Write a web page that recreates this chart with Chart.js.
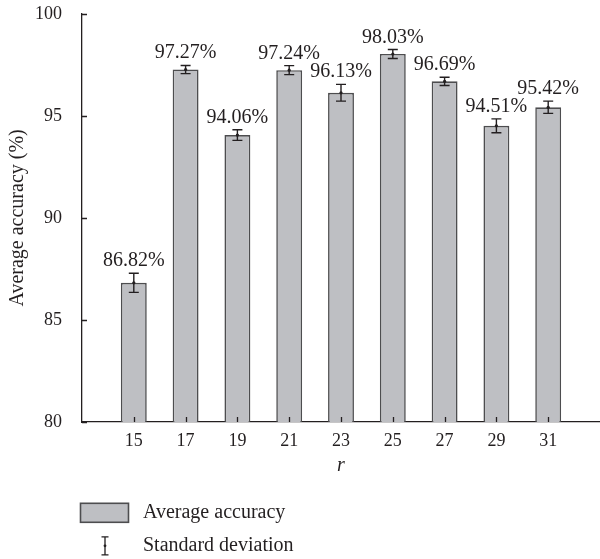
<!DOCTYPE html>
<html>
<head>
<meta charset="utf-8">
<script src="https://cdn.jsdelivr.net/npm/chart.js@4/dist/chart.umd.min.js"></script>
<style>
  html, body { margin: 0; padding: 0; background: #ffffff; }
  #wrap { width: 600px; height: 559px; position: relative; overflow: hidden; }
  #chart { position: absolute; left: 0; top: 0; }
</style>
</head>
<body>
<div id="wrap"><canvas id="chart" width="600" height="577"></canvas></div>
<script>
// Window size r and the averaged accuracy (%) with its standard deviation
const rValues = [15, 17, 19, 21, 23, 25, 27, 29, 31];
const accuracy = [86.82, 97.27, 94.06, 97.24, 96.13, 98.03, 96.69, 94.51, 95.42];
const stdDev = [0.47, 0.20, 0.26, 0.22, 0.41, 0.22, 0.20, 0.34, 0.30];
const yTicks = [80, 85, 90, 95, 100];
const legendLabels = ['Average accuracy', 'Standard deviation'];

const SERIF = "'Liberation Serif', 'DejaVu Serif', serif";
const TEXT = '#231f20';
const BAR_FILL = '#bebfc3';
const BAR_EDGE = '#4d4d4f';
const INK = '#231f20';
const PLOT_TOP = 14; // where the 100 line should sit on the page

// Error bars, value labels, inward tick marks and the legend
const extras = {
  id: 'extras',
  afterLayout(chart) {
    // slide the canvas so the plot top lands at PLOT_TOP
    chart.canvas.style.top = (PLOT_TOP - chart.chartArea.top) + 'px';
  },
  afterDatasetsDraw(chart) {
    const { ctx } = chart;
    const xs = chart.scales.x, ys = chart.scales.y;
    ctx.save();
    ctx.strokeStyle = INK;
    ctx.fillStyle = INK;
    ctx.lineWidth = 1.4;
    rValues.forEach((r, i) => {
      const cx = xs.getPixelForValue(r);
      const yHi = ys.getPixelForValue(accuracy[i] + stdDev[i]);
      const yLo = ys.getPixelForValue(accuracy[i] - stdDev[i]);
      const yMid = ys.getPixelForValue(accuracy[i]);
      ctx.beginPath();
      ctx.moveTo(cx, yHi); ctx.lineTo(cx, yLo);
      ctx.moveTo(cx - 5, yHi); ctx.lineTo(cx + 5, yHi);
      ctx.moveTo(cx - 5, yLo); ctx.lineTo(cx + 5, yLo);
      ctx.stroke();
      ctx.beginPath();
      ctx.arc(cx, yMid, 1.6, 0, Math.PI * 2);
      ctx.fill();

      ctx.fillStyle = TEXT;
      ctx.font = '20px ' + SERIF;
      ctx.textAlign = 'center';
      ctx.textBaseline = 'alphabetic';
      ctx.fillText(accuracy[i].toFixed(2) + '%', cx, yHi - 7);
      ctx.fillStyle = INK;
    });
    ctx.restore();
  },
  afterDraw(chart) {
    const { ctx, chartArea } = chart;
    const xs = chart.scales.x, ys = chart.scales.y;
    const dy = chartArea.top - PLOT_TOP;
    ctx.save();
    ctx.strokeStyle = INK;
    ctx.lineWidth = 1.3;
    ctx.beginPath();
    yTicks.forEach(v => {
      const y = Math.round(ys.getPixelForValue(v)) + 0.5;
      ctx.moveTo(chartArea.left, y); ctx.lineTo(chartArea.left + 5, y);
    });
    rValues.forEach(r => {
      const x = Math.round(xs.getPixelForValue(r)) + 0.5;
      ctx.moveTo(x, chartArea.bottom); ctx.lineTo(x, chartArea.bottom - 5);
    });
    ctx.stroke();

    // legend
    ctx.font = '20px ' + SERIF;
    ctx.textAlign = 'left';
    ctx.textBaseline = 'middle';
    ctx.fillStyle = BAR_FILL;
    ctx.fillRect(80.5, 503.5 + dy, 48, 19);
    ctx.strokeStyle = BAR_EDGE;
    ctx.lineWidth = 1.6;
    ctx.strokeRect(80.5, 503.5 + dy, 48, 19);
    ctx.fillStyle = TEXT;
    ctx.fillText(legendLabels[0], 143, 513 + dy);

    ctx.strokeStyle = INK;
    ctx.lineWidth = 1.3;
    const ix = 105, it = 537 + dy, ib = 555 + dy;
    ctx.beginPath();
    ctx.moveTo(ix, it); ctx.lineTo(ix, ib);
    ctx.moveTo(ix - 3.5, it); ctx.lineTo(ix + 3.5, it);
    ctx.moveTo(ix - 3.5, ib); ctx.lineTo(ix + 3.5, ib);
    ctx.stroke();
    ctx.beginPath();
    ctx.arc(ix, (it + ib) / 2, 1.4, 0, Math.PI * 2);
    ctx.fillStyle = INK;
    ctx.fill();
    ctx.fillStyle = TEXT;
    ctx.fillText(legendLabels[1], 143, 546 + dy);
    ctx.restore();
  }
};

new Chart(document.getElementById('chart'), {
  type: 'bar',
  data: {
    datasets: [{
      label: legendLabels[0],
      data: rValues.map((r, i) => ({ x: r, y: accuracy[i] })),
      backgroundColor: BAR_FILL,
      borderColor: BAR_EDGE,
      borderWidth: 1.6,
      borderSkipped: false,
      barPercentage: 0.5,
      categoryPercentage: 1.0
    }]
  },
  options: {
    responsive: false,
    animation: false,
    events: [],
    layout: { padding: { top: 0, right: 0, bottom: 78, left: 0 } },
    plugins: { legend: { display: false }, tooltip: { enabled: false } },
    scales: {
      x: {
        type: 'linear',
        min: 13,
        max: 33,
        offset: false,
        afterFit(scale) { scale.height = 60; },
        afterBuildTicks(scale) { scale.ticks = rValues.map(v => ({ value: v })); },
        grid: { display: false, drawTicks: false },
        border: { display: true, color: INK, width: 1.3 },
        ticks: {
          padding: 8,
          color: TEXT,
          font: { family: SERIF, size: 18 },
          maxRotation: 0,
          autoSkip: false,
          callback: v => String(v)
        },
        title: {
          display: true,
          text: 'r',
          color: TEXT,
          font: { family: SERIF, size: 20, style: 'italic' },
          padding: { top: 0, bottom: 4 }
        }
      },
      y: {
        min: 80,
        max: 100,
        afterFit(scale) { scale.width = 82; },
        afterBuildTicks(scale) { scale.ticks = yTicks.map(v => ({ value: v })); },
        grid: { display: false, drawTicks: false },
        border: { display: true, color: INK, width: 1.3 },
        ticks: {
          padding: 20,
          color: TEXT,
          font: { family: SERIF, size: 18 },
          callback: v => String(v)
        },
        title: {
          display: true,
          text: 'Average accuracy (%)',
          color: TEXT,
          font: { family: SERIF, size: 20 },
          padding: { top: 6, bottom: 0 }
        }
      }
    }
  },
  plugins: [extras]
});
</script>
</body>
</html>
